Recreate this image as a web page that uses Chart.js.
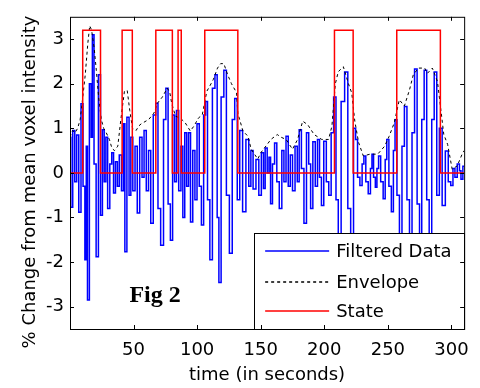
<!DOCTYPE html>
<html>
<head>
<meta charset="utf-8">
<script src="https://cdn.jsdelivr.net/npm/chart.js@4.4.0/dist/chart.umd.min.js"></script>
<style>
  html, body { margin: 0; padding: 0; background: #fff; }
</style>
</head>
<body>
<canvas id="fig2" width="480" height="388"></canvas>
<script>
// filtered voxel signal (time in s, % change)
const sigTime = [0, 1.3, 3, 4.5, 6, 7.8, 9.5, 11, 12.4, 13.2,
  14.3, 16.2, 17, 18.2, 19.6, 21.5, 23.2, 24.8, 26.2, 27.6,
  28.8, 30.4, 32.2, 33.5, 35, 36.5, 38, 39.5, 41.5, 42.5,
  43.8, 45.7, 47.2, 48.5, 50.3, 52, 53.8, 55.8, 57.5, 59,
  61, 62.5, 64.5, 66.5, 68.4, 70, 72.6, 74.5, 76.3, 78,
  79.9, 81.5, 83, 84.5, 86.5, 88, 89.5, 91, 92.5, 94,
  95.6, 97.5, 99, 100.8, 102.5, 104.2, 106, 107.3, 109, 111,
  113, 115, 116.5, 117.7, 120, 122, 124, 126.7, 128.5, 130.6,
  132.5, 134.5, 137, 139.7, 141.5, 143, 145, 147.5, 149.5, 151.5,
  152.8, 154.2, 156, 157, 158.5, 160, 161.8, 163.5, 165.7, 167.5,
  169, 170.8, 172.5, 174, 176, 178, 179.5, 181, 183, 185,
  187, 188.5, 190, 192, 193.8, 195.5, 197, 198.5, 200.7, 202.5,
  204.5, 206.3, 208.4, 210, 212, 214.5, 217.5, 219.5, 222, 224,
  225.3, 227, 229, 230.5, 231.8, 233.5, 235.6, 237, 238, 239.5,
  240.8, 242, 243.4, 245.3, 247.3, 248.5, 249.8, 251.8, 253.7, 255,
  256.3, 258, 260.2, 262, 264, 266, 268, 270, 272, 274,
  275.8, 277.5, 279.6, 281.5, 283.5, 285.5, 287.4, 289.5, 291.5, 293.9,
  296.5, 298.5, 300.4, 302, 303.5, 305.6, 307, 308, 310];
const sigValue = [0.8, -0.77, 0.95, -0.2, 0.85, -0.88, 1.55, -0.3, -1.95, 0.6,
  -2.85, 2.0, 0.8, 3.1, 0.2, -1.88, 2.2, -0.95, 0.97, -0.2,
  0.8, -0.8, 0.2, 0.45, -0.45, 0.25, -0.3, 0.4, -0.4, 1.1,
  -1.77, 1.25, -0.5, 0.8, -0.4, 0.6, -0.9, 0.8, -0.1, 0.95,
  -0.4, 0.5, -1.13, 1.3, 1.56, -0.8, -1.62, 1.2, 1.9, -0.7,
  -1.51, 1.3, -0.2, 1.4, -0.4, 0.6, -1.0, 0.9, -0.3, 0.9,
  -1.1, 0.5, -0.6, 1.1, -0.3, -1.17, 1.3, 1.6, -0.6, -1.95,
  1.9, 2.2, -1.0, -2.46, 1.7, 2.3, -0.5, -1.8, 1.2, 1.67,
  -0.6, 0.95, -0.87, 0.75, -0.3, 0.5, -0.36, 0.3, -0.5, 0.45,
  -0.35, 0.56, 0.0, 0.35, -0.69, 0.2, 0.67, -0.2, -0.8, 0.5,
  -0.2, 0.82, -0.3, 0.4, -0.4, 0.6, -0.2, 0.97, 0.1, -1.13,
  0.9, 0.2, -0.8, 0.7, -0.3, 0.75, -0.1, -0.73, 0.71, -0.2,
  -0.5, 0.9, 1.7, -0.6, -2.0, 1.6, 2.26, -0.8, -2.2, 1.0,
  0.75, -0.1, -0.28, 0.2, 0.38, -0.2, -0.47, 0.1, 0.42, -0.1,
  -0.32, 0.1, 0.38, -0.2, -0.58, 0.3, 0.75, -0.3, -0.87, 0.5,
  1.19, -0.5, -1.7, 0.6, 1.49, -0.6, -1.9, 0.9, 2.33, -0.7,
  -2.2, 1.2, 2.3, -0.6, -2.1, 1.2, 2.26, -0.5, 1.0, -0.73,
  0.49, -0.2, -0.28, 0.1, -0.1, 0.2, 0.05, -0.14, 0.15];

// upper envelope
const envTime = [0, 2, 4, 6, 8, 9.5, 12, 14, 15.5, 17,
  19, 20.7, 22.5, 24.6, 26.5, 28.5, 31, 33, 35, 37.6,
  40, 42.8, 45, 47, 49.2, 52, 54, 56, 59, 62,
  66, 68.7, 72.6, 76.5, 78.5, 80, 83, 86.8, 90.7, 94.6,
  97.5, 101, 104, 107.6, 110, 112.8, 116, 118.5, 121, 124,
  127, 131, 132, 136, 140, 142.5, 147.7, 150, 153, 158,
  163, 166, 170, 175, 179, 183, 187, 192, 198, 203.4,
  206, 208.7, 211, 215, 219, 221.6, 224, 227, 230.7, 236,
  242, 247.5, 251, 255, 259, 263, 267, 270, 274, 279,
  281, 285, 289, 292, 294, 297, 300.6, 304.6, 308.4, 310];
const envValue = [0.8, 0.95, 0.9, 1.0, 1.2, 1.56, 2.2, 2.9, 3.3, 3.2,
  2.8, 2.3, 1.7, 1.2, 1.0, 0.9, 0.75, 0.55, 0.5, 0.6,
  1.2, 1.83, 1.85, 1.4, 1.0, 0.95, 1.05, 1.1, 1.15, 1.2,
  1.34, 1.56, 1.7, 1.9, 1.8, 1.56, 1.27, 1.23, 1.12, 0.94,
  1.05, 1.23, 1.3, 1.83, 1.95, 2.1, 2.35, 2.45, 2.45, 2.2,
  2.0, 1.8, 1.34, 0.94, 0.82, 0.53, 0.31, 0.45, 0.56, 0.75,
  0.86, 0.8, 0.75, 0.53, 0.75, 1.16, 1.08, 0.86, 0.75, 0.75,
  1.05, 2.0, 2.27, 2.38, 2.0, 1.79, 1.16, 0.68, 0.38, 0.42,
  0.42, 0.6, 0.82, 1.12, 1.64, 1.5, 1.86, 2.2, 2.35, 2.35,
  2.23, 2.35, 2.05, 1.34, 0.86, 0.64, 0.08, 0.16, 0.42, 0.5];

// on/off state, each value holds until the next time
const stateTime = [0, 10, 24, 41, 49, 67.5, 80.5, 85, 87.5, 106, 132, 208, 222.7, 257, 291.3, 310];
const stateValue = [0, 3.2, 0, 3.2, 0, 3.2, 0, 3.2, 0, 3.2, 0, 3.2, 0, 3.2, 0, 0];

const xTicks = [50, 100, 150, 200, 250, 300];
const yTicks = [-3, -2, -1, 0, 1, 2, 3];
const yTitle = '% Change from mean voxel intensity';
const figLabel = 'Fig 2';
const figAt = [46.7, -2.9];

const pts = (xs, ys) => xs.map((x, i) => ({ x: x, y: ys[i] }));

Chart.defaults.font.family = '"DejaVu Sans", sans-serif';
Chart.defaults.font.size = 18;
Chart.defaults.color = '#000';

// y title, legend box, Fig label and matlab-style frame with inward ticks
const figureExtras = {
  id: 'figureExtras',
  afterDatasetsDraw(chart) {
    const { ctx, chartArea: a, scales } = chart;
    ctx.save();

    ctx.save();
    ctx.translate(35, 182);
    ctx.rotate(-Math.PI / 2);
    ctx.font = '18px "DejaVu Sans", sans-serif';
    ctx.fillStyle = '#000';
    ctx.textAlign = 'center';
    ctx.textBaseline = 'alphabetic';
    ctx.fillText(yTitle, 0, 0);
    ctx.restore();

    ctx.font = 'bold 24px "Liberation Serif", serif';
    ctx.fillStyle = '#000';
    ctx.textAlign = 'left';
    ctx.textBaseline = 'alphabetic';
    ctx.fillText(figLabel, scales.x.getPixelForValue(figAt[0]), scales.y.getPixelForValue(figAt[1]));

    const w = 210, h = 96;
    const lx = a.right - w, ly = a.bottom - h;
    ctx.fillStyle = '#fff';
    ctx.fillRect(lx, ly, w, h);
    ctx.strokeStyle = '#000';
    ctx.lineWidth = 1;
    ctx.strokeRect(Math.round(lx) + 0.5, Math.round(ly) + 0.5, w, h);
    const rows = [18, 49, 77.5];
    chart.data.datasets.forEach((ds, i) => {
      const y = Math.round(ly + rows[i]);
      ctx.strokeStyle = ds.borderColor;
      ctx.lineWidth = 1.5;
      ctx.setLineDash(ds.borderDash || []);
      ctx.beginPath();
      ctx.moveTo(lx + 11, y);
      ctx.lineTo(lx + 75, y);
      ctx.stroke();
      ctx.setLineDash([]);
      ctx.fillStyle = '#000';
      ctx.font = '18px "DejaVu Sans", sans-serif';
      ctx.textBaseline = 'middle';
      ctx.fillText(ds.label, lx + 82, y + 1);
    });

    ctx.strokeStyle = '#000';
    ctx.lineWidth = 1;
    ctx.strokeRect(a.left + 0.5, a.top + 0.5, a.right - a.left, a.bottom - a.top);
    ctx.beginPath();
    scales.x.ticks.forEach(t => {
      const px = Math.round(scales.x.getPixelForValue(t.value)) + 0.5;
      ctx.moveTo(px, a.bottom); ctx.lineTo(px, a.bottom - 4);
      ctx.moveTo(px, a.top); ctx.lineTo(px, a.top + 4);
    });
    scales.y.ticks.forEach(t => {
      const py = Math.round(scales.y.getPixelForValue(t.value)) + 0.5;
      ctx.moveTo(a.left, py); ctx.lineTo(a.left + 4, py);
      ctx.moveTo(a.right, py); ctx.lineTo(a.right - 4, py);
    });
    ctx.stroke();
    ctx.restore();
  }
};

new Chart('fig2', {
  type: 'line',
  data: {
    datasets: [{
      label: 'Filtered Data',
      data: pts(sigTime, sigValue),
      borderColor: '#0000ff',
      borderWidth: 1.5,
      stepped: 'middle',
      pointRadius: 0,
      order: 3
    }, {
      label: 'Envelope',
      data: pts(envTime, envValue),
      borderColor: '#000000',
      borderWidth: 1,
      borderDash: [3, 3],
      pointRadius: 0,
      order: 2
    }, {
      label: 'State',
      data: pts(stateTime, stateValue),
      borderColor: '#ff0000',
      borderWidth: 1.5,
      stepped: true,
      pointRadius: 0,
      order: 1
    }]
  },
  options: {
    responsive: false,
    animation: false,
    events: [],
    layout: { padding: { left: 0, top: 12, right: 12, bottom: 0 } },
    plugins: { legend: { display: false }, tooltip: { enabled: false } },
    scales: {
      x: {
        type: 'linear',
        min: 0,
        max: 310,
        afterBuildTicks: s => { s.ticks = xTicks.map(v => ({ value: v })); },
        afterFit: s => { s.height = 59; },
        grid: { display: false, drawTicks: false },
        border: { display: false },
        ticks: { padding: 11, maxRotation: 0, autoSkip: false },
        title: { display: true, text: 'time (in seconds)', padding: { top: 0, bottom: 2 } }
      },
      y: {
        min: -3.5,
        max: 3.5,
        afterBuildTicks: s => { s.ticks = yTicks.map(v => ({ value: v })); },
        afterFit: s => { s.width = 70; },
        grid: { display: false, drawTicks: false },
        border: { display: false },
        ticks: { padding: 6 }
      }
    }
  },
  plugins: [figureExtras]
});
</script>
</body>
</html>
